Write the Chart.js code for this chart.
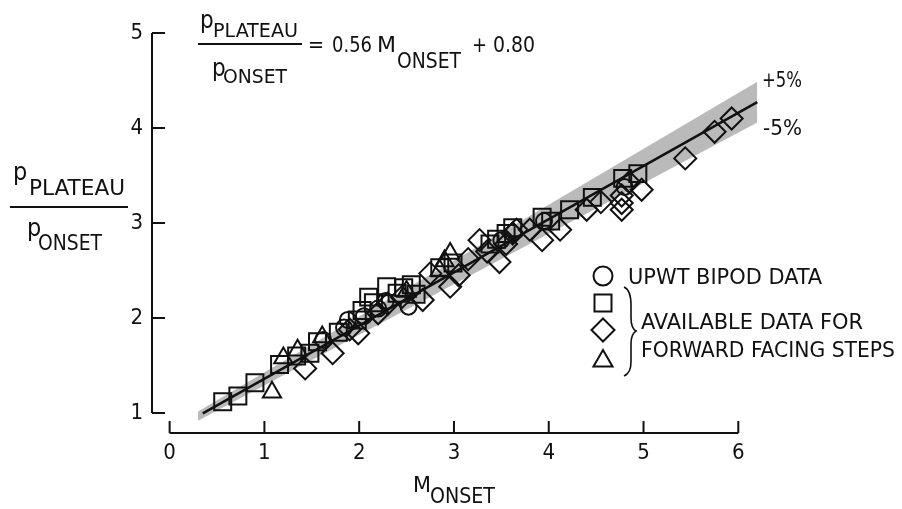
<!DOCTYPE html>
<html>
<head>
<meta charset="utf-8">
<script src="https://cdn.jsdelivr.net/npm/chart.js@4.4.1/dist/chart.umd.min.js"></script>
<style>
    html, body { margin: 0; padding: 0; background: #fff; }
    #wrap { width: 902px; height: 509px; }
</style>
</head>
<body>
<div id="wrap"><canvas id="chart" width="902" height="509"></canvas></div>
<script>
// tick labels
const xTicks = [0, 1, 2, 3, 4, 5, 6];
const yTicks = [1, 2, 3, 4, 5];

// UPWT bipod data (circles)
const circleM = [1.62, 1.84, 1.88, 2.05, 2.20, 2.28, 2.52, 3.50, 3.95, 4.80];
const circleP = [1.77, 1.90, 1.98, 2.02, 2.10, 2.18, 2.12, 2.82, 3.02, 3.38];

// forward facing steps (squares)
const squareM = [0.56, 0.72, 0.90, 1.16, 1.34, 1.48, 1.56, 1.78, 1.98, 2.03, 2.10, 2.15, 2.29, 2.40, 2.47, 2.55, 2.60, 2.85, 2.99, 3.38, 3.45, 3.55, 3.62, 3.93, 4.02, 4.22, 4.46, 4.78, 4.94];
const squareP = [1.12, 1.18, 1.32, 1.51, 1.60, 1.63, 1.75, 1.85, 1.98, 2.08, 2.22, 2.16, 2.33, 2.26, 2.32, 2.35, 2.25, 2.53, 2.58, 2.78, 2.83, 2.89, 2.95, 3.06, 3.02, 3.14, 3.27, 3.47, 3.52];

// forward facing steps (diamonds)
const diamondM = [1.43, 1.72, 1.90, 1.99, 2.20, 2.30, 2.45, 2.67, 2.75, 2.96, 3.05, 3.15, 3.27, 3.35, 3.48, 3.55, 3.62, 3.66, 3.80, 3.93, 4.12, 4.40, 4.55, 4.77, 4.77, 4.77, 4.85, 4.98, 5.44, 5.75, 5.93];
const diamondP = [1.47, 1.63, 1.88, 1.84, 2.05, 2.15, 2.22, 2.19, 2.47, 2.33, 2.45, 2.62, 2.82, 2.70, 2.59, 2.78, 2.89, 2.93, 2.93, 2.82, 2.93, 3.14, 3.22, 3.14, 3.21, 3.29, 3.43, 3.35, 3.68, 3.96, 4.10];

// forward facing steps (triangles)
const triM = [1.08, 1.20, 1.35, 1.61, 2.50, 2.85, 2.90, 2.96];
const triP = [1.22, 1.58, 1.66, 1.80, 2.28, 2.50, 2.60, 2.68];

// fit line and +/-5% band end points
const fitM = [0.35, 6.2];
const fitP = [0.996, 4.272];
const bandM = [0.3, 6.2];
const bandHi = [1.016, 4.486];
const bandLo = [0.920, 4.058];

const FONT = '"DejaVu Sans Condensed", "Liberation Sans Narrow", "DejaVu Sans", sans-serif';
const INK = '#111';

function pts(xs, ys) {
    return xs.map((x, i) => ({ x: x, y: ys[i] }));
}

// texte simple, on peut forcer la largeur
function txt(ctx, s, x, y, size, w) {
    ctx.save();
    ctx.font = size + 'px ' + FONT;
    ctx.fillStyle = INK;
    ctx.textAlign = 'left';
    ctx.textBaseline = 'alphabetic';
    if (w) {
        const m = ctx.measureText(s).width;
        ctx.translate(x, y);
        ctx.scale(w / m, 1);
        ctx.fillText(s, 0, 0);
    } else {
        ctx.fillText(s, x, y);
    }
    ctx.restore();
}

function marker(ctx, type, x, y, r) {
    ctx.beginPath();
    if (type === 'circle') {
        ctx.arc(x, y, r, 0, Math.PI * 2);
    } else if (type === 'rect') {
        ctx.rect(x - r, y - r, 2 * r, 2 * r);
    } else if (type === 'diamond') {
        ctx.moveTo(x, y - r); ctx.lineTo(x + r, y); ctx.lineTo(x, y + r); ctx.lineTo(x - r, y); ctx.closePath();
    } else {
        ctx.moveTo(x, y - r); ctx.lineTo(x + r * 0.866, y + r / 2); ctx.lineTo(x - r * 0.866, y + r / 2); ctx.closePath();
    }
    ctx.stroke();
}

const decor = {
    id: 'decor',
    afterDraw(chart) {
        const ctx = chart.ctx;
        const xs = chart.scales.x, ys = chart.scales.y;
        const ax = chart.chartArea.left, ay = chart.chartArea.bottom;

        // axes detachés avec ticks vers l'intérieur
        ctx.save();
        ctx.strokeStyle = INK;
        ctx.lineWidth = 2;
        ctx.beginPath();
        ctx.moveTo(ax, ys.getPixelForValue(yTicks[0]));
        ctx.lineTo(ax, ys.getPixelForValue(yTicks[yTicks.length - 1]));
        yTicks.forEach(v => {
            const p = ys.getPixelForValue(v);
            ctx.moveTo(ax, p); ctx.lineTo(ax + 13, p);
        });
        ctx.moveTo(xs.getPixelForValue(xTicks[0]), ay);
        ctx.lineTo(xs.getPixelForValue(xTicks[xTicks.length - 1]), ay);
        xTicks.forEach(v => {
            const p = xs.getPixelForValue(v);
            ctx.moveTo(p, ay); ctx.lineTo(p, ay - 12);
        });
        ctx.stroke();

        // formule
        txt(ctx, 'p', 200, 28, 24);
        txt(ctx, 'PLATEAU', 213, 37, 20, 85);
        ctx.lineWidth = 2;
        ctx.beginPath(); ctx.moveTo(198, 44); ctx.lineTo(302, 44); ctx.stroke();
        txt(ctx, 'p', 212, 76, 24);
        txt(ctx, 'ONSET', 223, 83, 20, 64);
        txt(ctx, '=', 308, 52, 22, 16);
        txt(ctx, '0.56', 332, 52, 22, 40);
        txt(ctx, 'M', 377, 52, 22, 19);
        txt(ctx, 'ONSET', 397, 68, 22, 64);
        txt(ctx, '+', 472, 52, 22, 15);
        txt(ctx, '0.80', 493, 52, 22, 42);

        // titre axe y
        txt(ctx, 'p', 13, 180, 25);
        txt(ctx, 'PLATEAU', 29, 195, 22, 96);
        ctx.beginPath(); ctx.moveTo(10, 207); ctx.lineTo(128, 207); ctx.stroke();
        txt(ctx, 'p', 27, 236, 25);
        txt(ctx, 'ONSET', 38, 250, 22, 64);

        // titre axe x
        txt(ctx, 'M', 413, 492, 22, 18);
        txt(ctx, 'ONSET', 430, 503, 22, 65);

        // +/- 5%
        txt(ctx, '+5%', 762, 87, 21, 40);
        txt(ctx, '-5%', 763, 135, 21, 39);

        // légende
        ctx.lineWidth = 2;
        marker(ctx, 'circle', 603, 276, 9.5);
        marker(ctx, 'rect', 603, 303, 8.5);
        marker(ctx, 'diamond', 603, 330, 11.5);
        marker(ctx, 'triangle', 603, 361, 11);
        txt(ctx, 'UPWT BIPOD DATA', 628, 284, 21, 194);
        txt(ctx, 'AVAILABLE DATA FOR', 641, 329, 21, 222);
        txt(ctx, 'FORWARD FACING STEPS', 641, 357, 21, 254);

        ctx.lineWidth = 1.6;
        ctx.beginPath();
        ctx.moveTo(624, 287);
        ctx.quadraticCurveTo(631, 290, 631, 305);
        ctx.lineTo(631, 318);
        ctx.quadraticCurveTo(631, 328, 636, 331);
        ctx.quadraticCurveTo(631, 334, 631, 344);
        ctx.lineTo(631, 362);
        ctx.quadraticCurveTo(631, 373, 624, 376);
        ctx.stroke();
        ctx.restore();
    }
};

const markerStyle = {
    showLine: false,
    borderColor: INK,
    backgroundColor: 'rgba(0,0,0,0)',
    pointBackgroundColor: 'rgba(0,0,0,0)',
    pointBorderColor: INK,
    pointBorderWidth: 2,
    order: 1
};

new Chart(document.getElementById('chart'), {
    type: 'scatter',
    data: {
        datasets: [
            {
                data: pts(bandM, bandHi), showLine: true, pointRadius: 0, borderWidth: 0,
                backgroundColor: '#bababa', fill: '+1', order: 10
            },
            {
                data: pts(bandM, bandLo), showLine: true, pointRadius: 0, borderWidth: 0, fill: false, order: 9
            },
            {
                data: pts(fitM, fitP), showLine: true, pointRadius: 0, borderColor: INK, borderWidth: 2.5,
                fill: false, order: 5
            },
            Object.assign({ data: pts(squareM, squareP), pointStyle: 'rect', pointRadius: 12 }, markerStyle),
            Object.assign({ data: pts(diamondM, diamondP), pointStyle: 'rectRot', pointRadius: 11 }, markerStyle),
            Object.assign({ data: pts(triM, triP), pointStyle: 'triangle', pointRadius: 10.5 }, markerStyle),
            Object.assign({ data: pts(circleM, circleP), pointStyle: 'circle', pointRadius: 8 }, markerStyle)
        ]
    },
    options: {
        responsive: false,
        devicePixelRatio: 1,
        animation: false,
        layout: { padding: { top: 33, right: 140, left: 0, bottom: 0 } },
        plugins: { legend: { display: false }, tooltip: { enabled: false } },
        scales: {
            x: {
                type: 'linear',
                min: -0.186,
                max: 6.25,
                grid: { display: false, drawTicks: false },
                border: { display: false },
                afterBuildTicks: s => { s.ticks = xTicks.map(v => ({ value: v })); },
                afterFit: s => { s.height = 76; },
                ticks: { color: INK, padding: 7, font: { family: FONT, size: 22 } }
            },
            y: {
                type: 'linear',
                min: 0.79,
                max: 5,
                grid: { display: false, drawTicks: false },
                border: { display: false },
                afterBuildTicks: s => { s.ticks = yTicks.map(v => ({ value: v })); },
                afterFit: s => { s.width = 152; },
                ticks: { color: INK, padding: 9, font: { family: FONT, size: 22 } }
            }
        }
    },
    plugins: [decor]
});
</script>
</body>
</html>
